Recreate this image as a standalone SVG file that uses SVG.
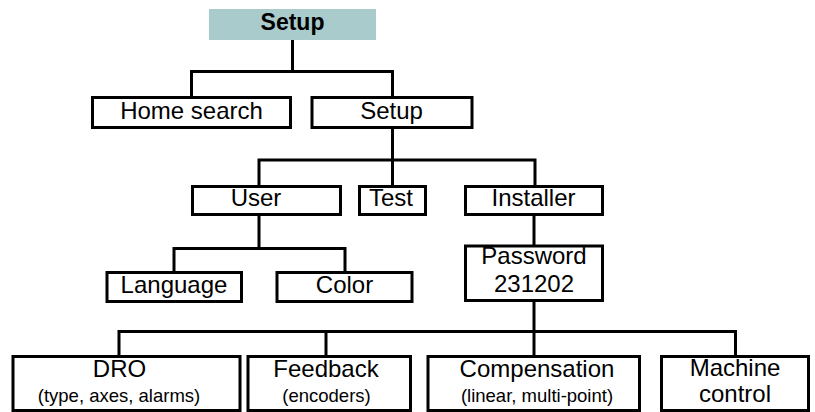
<svg xmlns="http://www.w3.org/2000/svg" width="815" height="412" viewBox="0 0 815 412">
<style>
.box{fill:#fff;stroke:#000;stroke-width:3}
.con{fill:none;stroke:#000;stroke-width:3;stroke-linejoin:miter}
text{font-family:"Liberation Sans",Arial,sans-serif;fill:#000;text-anchor:middle}
.t{font-size:24px}
.s{font-size:18.5px}
.b{font-size:23px;font-weight:bold}
</style>
<rect width="815" height="412" fill="#fff"/>
<g id="connectors">
<path class="con" d="M292.5,40 V71.5"/>
<path class="con" d="M191.5,96 V71.5 H392.5 V96"/>
<path class="con" d="M392.5,128 V185"/>
<path class="con" d="M259,185 V160 H535 V185"/>
<path class="con" d="M259,216 V248.5"/>
<path class="con" d="M174,271 V248.5 H345 V271"/>
<path class="con" d="M534,216 V245"/>
<path class="con" d="M534,301 V355"/>
<path class="con" d="M119,355 V331.5 H735.5 V355"/>
<path class="con" d="M326,331.5 V355"/>
</g>
<g id="node-root">
<rect x="209" y="9" width="167" height="31" fill="#a9cbcb"/>
<text class="b" x="292.5" y="30">Setup</text>
</g>
<g id="node-home">
<rect class="box" x="92.5" y="97.5" width="198" height="30"/>
<text class="t" x="191.5" y="118.5">Home search</text>
</g>
<g id="node-setup">
<rect class="box" x="312" y="97.5" width="160" height="30"/>
<text class="t" x="391.5" y="118.5">Setup</text>
</g>
<g id="node-user">
<rect class="box" x="192.5" y="186.5" width="148" height="28"/>
<text class="t" x="256" y="206">User</text>
</g>
<g id="node-test">
<rect class="box" x="359.5" y="186.5" width="66" height="28"/>
<text class="t" x="391" y="206">Test</text>
</g>
<g id="node-installer">
<rect class="box" x="465.5" y="186.5" width="137" height="28"/>
<text class="t" x="533.5" y="206">Installer</text>
</g>
<g id="node-language">
<rect class="box" x="107" y="272.5" width="134.5" height="29"/>
<text class="t" x="174" y="293">Language</text>
</g>
<g id="node-color">
<rect class="box" x="277" y="272.5" width="135" height="29"/>
<text class="t" x="344.5" y="293">Color</text>
</g>
<g id="node-password">
<rect class="box" x="465.5" y="246" width="137" height="54.5"/>
<text class="t" x="534" y="264">Password</text>
<text class="t" x="534" y="292">231202</text>
</g>
<g id="node-dro">
<rect class="box" x="13" y="356.5" width="227" height="54"/>
<text class="t" x="119.5" y="377">DRO</text>
<text class="s" x="119" y="402">(type, axes, alarms)</text>
</g>
<g id="node-feedback">
<rect class="box" x="248" y="356.5" width="162.5" height="54"/>
<text class="t" x="326" y="377">Feedback</text>
<text class="s" x="326.5" y="402">(encoders)</text>
</g>
<g id="node-compensation">
<rect class="box" x="428" y="356.5" width="211.5" height="54"/>
<text class="t" x="537" y="377">Compensation</text>
<text class="s" x="537" y="402">(linear, multi-point)</text>
</g>
<g id="node-machine">
<rect class="box" x="661.5" y="356.5" width="147" height="54"/>
<text class="t" x="735" y="376">Machine</text>
<text class="t" x="735" y="402">control</text>
</g>
</svg>
